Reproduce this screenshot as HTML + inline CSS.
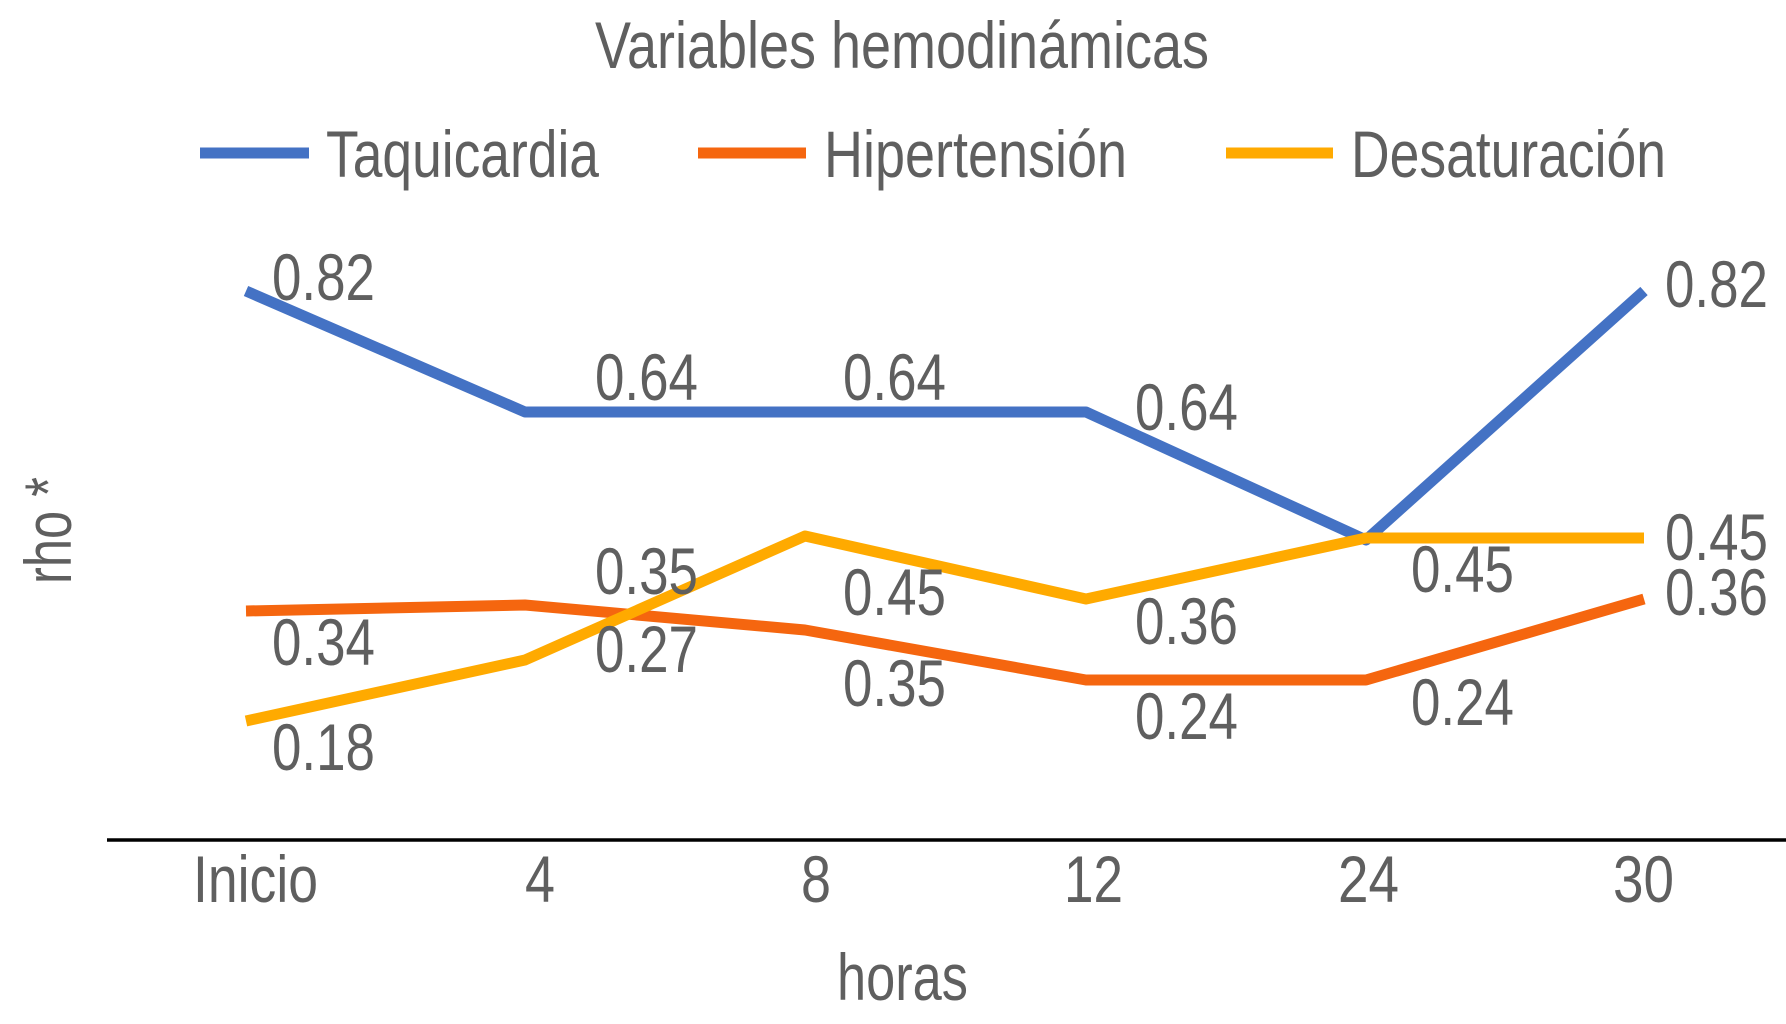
<!DOCTYPE html>
<html>
<head>
<meta charset="utf-8">
<style>
html,body{margin:0;padding:0;background:#fff;}
svg{display:block;}
text{font-family:"Liberation Sans",Arial,sans-serif;font-size:66px;fill:#5f5f5f;}
</style>
</head>
<body>
<svg width="1786" height="1024" viewBox="0 0 1786 1024" xmlns="http://www.w3.org/2000/svg">
<rect width="1786" height="1024" fill="#fff"/>
<!-- Title -->
<text x="595" y="68" textLength="614" lengthAdjust="spacingAndGlyphs">Variables hemodinámicas</text>
<!-- Legend -->
<line x1="200" y1="153" x2="309" y2="153" stroke="#4472C4" stroke-width="11"/>
<text x="326" y="177" textLength="273" lengthAdjust="spacingAndGlyphs">Taquicardia</text>
<line x1="698" y1="153" x2="806" y2="153" stroke="#F5660F" stroke-width="11"/>
<text x="824" y="177" textLength="303" lengthAdjust="spacingAndGlyphs">Hipertensión</text>
<line x1="1226" y1="153" x2="1333" y2="153" stroke="#FFAA00" stroke-width="11"/>
<text x="1351" y="177" textLength="315" lengthAdjust="spacingAndGlyphs">Desaturación</text>

<!-- Axis -->
<line x1="107" y1="840" x2="1786" y2="840" stroke="#000" stroke-width="3.5"/>

<!-- Series -->
<polyline fill="none" stroke="#4472C4" stroke-width="11" stroke-linejoin="round" points="246,291 525,412 805,412 1086,412 1366,540 1644,291"/>
<polyline fill="none" stroke="#F5660F" stroke-width="11" stroke-linejoin="round" points="246,611 525,605 805,630 1086,680 1366,680 1644,599"/>
<polyline fill="none" stroke="#FFAA00" stroke-width="11" stroke-linejoin="round" points="246,721 525,660 805,536 1086,599 1366,538 1644,538"/>

<!-- Data labels -->
<g>
<text x="272" y="300" textLength="103" lengthAdjust="spacingAndGlyphs">0.82</text>
<text x="595" y="400" textLength="103" lengthAdjust="spacingAndGlyphs">0.64</text>
<text x="843" y="400" textLength="103" lengthAdjust="spacingAndGlyphs">0.64</text>
<text x="1135" y="430" textLength="103" lengthAdjust="spacingAndGlyphs">0.64</text>
<text x="1665" y="307" textLength="103" lengthAdjust="spacingAndGlyphs">0.82</text>
<text x="595" y="594" textLength="103" lengthAdjust="spacingAndGlyphs">0.35</text>
<text x="272" y="665" textLength="103" lengthAdjust="spacingAndGlyphs">0.34</text>
<text x="595" y="672" textLength="103" lengthAdjust="spacingAndGlyphs">0.27</text>
<text x="272" y="770" textLength="103" lengthAdjust="spacingAndGlyphs">0.18</text>
<text x="843" y="615" textLength="103" lengthAdjust="spacingAndGlyphs">0.45</text>
<text x="843" y="706" textLength="103" lengthAdjust="spacingAndGlyphs">0.35</text>
<text x="1135" y="644" textLength="103" lengthAdjust="spacingAndGlyphs">0.36</text>
<text x="1135" y="739" textLength="103" lengthAdjust="spacingAndGlyphs">0.24</text>
<text x="1411" y="592" textLength="103" lengthAdjust="spacingAndGlyphs">0.45</text>
<text x="1411" y="725" textLength="103" lengthAdjust="spacingAndGlyphs">0.24</text>
<text x="1665" y="560" textLength="103" lengthAdjust="spacingAndGlyphs">0.45</text>
<text x="1665" y="615" textLength="103" lengthAdjust="spacingAndGlyphs">0.36</text>
</g>

<!-- X-axis labels -->
<text x="193" y="902" textLength="125" lengthAdjust="spacingAndGlyphs">Inicio</text>
<text x="525" y="902" textLength="30" lengthAdjust="spacingAndGlyphs">4</text>
<text x="801" y="902" textLength="30" lengthAdjust="spacingAndGlyphs">8</text>
<text x="1064" y="902" textLength="59" lengthAdjust="spacingAndGlyphs">12</text>
<text x="1338" y="902" textLength="61" lengthAdjust="spacingAndGlyphs">24</text>
<text x="1613" y="902" textLength="61" lengthAdjust="spacingAndGlyphs">30</text>

<!-- Axis titles -->
<text x="837" y="1000" textLength="131" lengthAdjust="spacingAndGlyphs">horas</text>
<text transform="translate(71,584) rotate(-90)" x="0" y="0" textLength="107" lengthAdjust="spacingAndGlyphs">rho *</text>
</svg>
</body>
</html>
